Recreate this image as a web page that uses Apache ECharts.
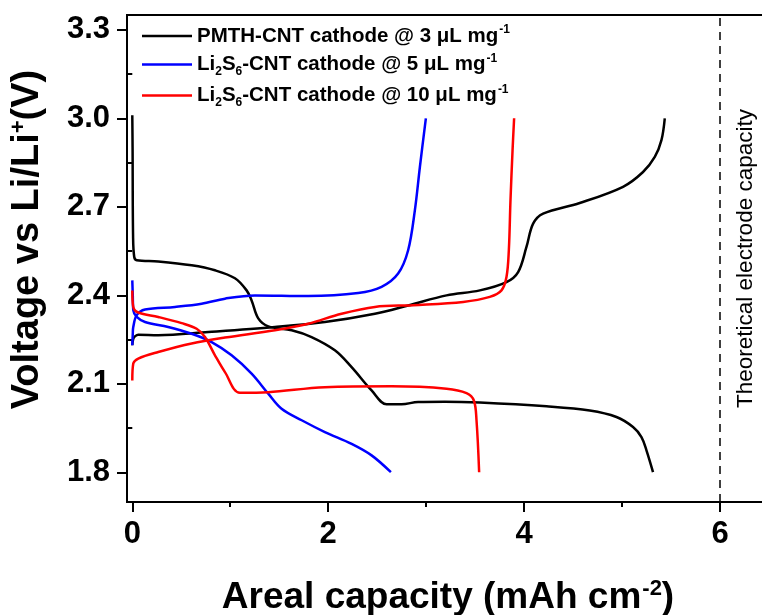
<!DOCTYPE html>
<html><head><meta charset="utf-8">
<script src="https://cdn.jsdelivr.net/npm/echarts@6/dist/echarts.min.js"></script>
<style>html,body{margin:0;padding:0;background:#fff}#c{width:762px;height:615px}</style>
</head><body><div id="c"></div>
<script>
// ---- data ----
var seriesNames = ['PMTH-CNT 3', 'Li2S6-CNT 5', 'Li2S6-CNT 10'];
var legendRich = [
  '{b|PMTH-CNT cathode @ 3 \u03BCL mg}{sup|-1}',
  '{b|Li}{sub|2}{b|S}{sub|6}{b|-CNT cathode @ 5 \u03BCL mg}{sup|-1}',
  '{b|Li}{sub|2}{b|S}{sub|6}{b|-CNT cathode @ 10 \u03BCL mg}{sup|-1}'
];
var xTicks = [0, 2, 4, 6];
var xMinor = [1, 3, 5];
var yTicks = [1.8, 2.1, 2.4, 2.7, 3.0, 3.3];
var yMinor = [1.95, 2.25, 2.55, 2.85, 3.15];
var theoreticalCapacity = 6;

var pmthDisX = [0, 0.003, 0.008, 0.02, 0.045, 0.265, 0.606, 0.844, 1.048, 1.167, 1.218, 1.286, 1.388, 1.627, 1.83, 2.068, 2.239, 2.443, 2.596, 2.749, 2.918, 3.19, 3.548, 4.229, 4.67, 4.943, 5.112, 5.198, 5.249, 5.316];
var pmthDisY = [3.01, 2.9, 2.6, 2.53, 2.519, 2.515, 2.502, 2.485, 2.458, 2.417, 2.383, 2.322, 2.295, 2.282, 2.259, 2.214, 2.157, 2.078, 2.031, 2.031, 2.039, 2.04, 2.037, 2.024, 2.010, 1.988, 1.954, 1.920, 1.875, 1.801];
var pmthChgX = [0, 0.01, 0.03, 0.061, 0.265, 0.776, 1.456, 1.966, 2.477, 2.817, 3.208, 3.548, 3.82, 3.939, 4.024, 4.092, 4.194, 4.568, 5.01, 5.214, 5.334, 5.402, 5.436];
var pmthChgY = [2.231, 2.253, 2.262, 2.267, 2.265, 2.276, 2.293, 2.31, 2.338, 2.366, 2.4, 2.417, 2.445, 2.479, 2.564, 2.643, 2.677, 2.713, 2.768, 2.818, 2.869, 2.926, 3.0];
var li5DisX = [0, 0.005, 0.01, 0.045, 0.13, 0.367, 0.606, 0.81, 1.014, 1.218, 1.388, 1.524, 1.729, 1.966, 2.239, 2.443, 2.64];
var li5DisY = [2.451, 2.40, 2.35, 2.327, 2.31, 2.293, 2.270, 2.242, 2.197, 2.135, 2.067, 2.016, 1.977, 1.937, 1.897, 1.858, 1.801];
var li5ChgX = [0, 0.005, 0.01, 0.045, 0.13, 0.436, 0.708, 0.946, 1.252, 1.796, 2.306, 2.545, 2.714, 2.816, 2.885, 2.936, 2.997];
var li5ChgY = [2.231, 2.27, 2.293, 2.333, 2.352, 2.361, 2.372, 2.389, 2.4, 2.398, 2.408, 2.429, 2.474, 2.553, 2.689, 2.835, 3.0];
var li10DisX = [0, 0.01, 0.061, 0.265, 0.504, 0.657, 0.742, 0.844, 0.946, 1.099, 1.388, 1.966, 2.647, 3.208, 3.412, 3.487, 3.514, 3.541];
var li10DisY = [2.417, 2.361, 2.342, 2.327, 2.306, 2.287, 2.259, 2.197, 2.140, 2.070, 2.072, 2.089, 2.092, 2.084, 2.069, 2.044, 1.977, 1.801];
var li10ChgX = [0, 0.01, 0.061, 0.265, 0.606, 0.946, 1.456, 1.796, 2.137, 2.477, 2.867, 3.378, 3.65, 3.769, 3.82, 3.844, 3.861, 3.882, 3.898];
var li10ChgY = [2.112, 2.169, 2.186, 2.208, 2.237, 2.257, 2.282, 2.304, 2.338, 2.361, 2.367, 2.378, 2.395, 2.417, 2.462, 2.553, 2.723, 2.892, 3.0];

function zip(a, b) { return a.map(function (v, i) { return [v, b[i]]; }); }
var FONT = 'Liberation Sans, Arial, sans-serif';
var colors = ['#000000', '#0000ff', '#ff0000'];

function lineSeries(name, idx, xs, ys) {
  return {
    type: 'line', name: name, data: zip(xs, ys), xAxisIndex: 0, yAxisIndex: 0,
    symbol: 'none', showSymbol: false, smooth: 0.35,
    lineStyle: { color: colors[idx], width: 2.5 }, itemStyle: { color: colors[idx] },
    z: 3 + idx, animation: false
  };
}

var chart = echarts.init(document.getElementById('c'), null, { renderer: 'canvas' });
var option = {
  animation: false,
  textStyle: { fontFamily: FONT },
  grid: { left: 127, top: 15, right: -7, bottom: 113, containLabel: false, outerBoundsMode: 'none',
    show: true, borderColor: '#000', borderWidth: 2, backgroundColor: 'transparent' },
  legend: {
    data: seriesNames, orient: 'vertical', left: 137, top: 18,
    icon: 'rect', itemWidth: 50, itemHeight: 2.5, itemGap: 5,
    formatter: function (n) { return legendRich[seriesNames.indexOf(n)]; },
    textStyle: {
      rich: {
        b: { fontFamily: FONT, fontWeight: 'bold', fontSize: 20.5, color: '#000', lineHeight: 26, verticalAlign: 'middle' },
        sup: { fontFamily: FONT, fontWeight: 'bold', fontSize: 12, color: '#000', lineHeight: 26, verticalAlign: 'top', padding: [1, 0, 0, 1] },
        sub: { fontFamily: FONT, fontWeight: 'bold', fontSize: 12, color: '#000', lineHeight: 26, verticalAlign: 'bottom' }
      }
    }
  },
  xAxis: [{
    type: 'value', min: -0.054, max: 6.5,
    name: '{t|Areal capacity (mAh cm}{s|-2}{t|)}', nameLocation: 'middle', nameGap: 74,
    nameTextStyle: { rich: {
      t: { fontFamily: FONT, fontWeight: 'bold', fontSize: 37, color: '#000', lineHeight: 44, verticalAlign: 'middle' },
      s: { fontFamily: FONT, fontWeight: 'bold', fontSize: 22, color: '#000', lineHeight: 44, verticalAlign: 'top', padding: [2, 0, 0, 1] }
    } },
    axisLine: { show: true, onZero: false, lineStyle: { color: '#000', width: 2 } },
    axisTick: { show: true, inside: false, length: 10, customValues: xTicks, lineStyle: { color: '#000', width: 2 } },
    axisLabel: { customValues: xTicks, fontFamily: FONT, fontWeight: 'bold', fontSize: 31, color: '#000', margin: 17 },
    splitLine: { show: false }
  }, {
    type: 'value', min: -0.054, max: 6.5, position: 'bottom',
    axisLine: { show: false },
    axisTick: { show: true, length: 5, customValues: xMinor, lineStyle: { color: '#000', width: 2 } },
    axisLabel: { show: false }, splitLine: { show: false }
  }],
  yAxis: [{
    type: 'value', min: 1.7, max: 3.35,
    name: '{t|Voltage vs Li/Li}{s|+}{t|(V)}', nameLocation: 'middle', nameGap: 77, nameRotate: 90,
    nameTextStyle: { padding: [0, 0, 0, 38], rich: {
      t: { fontFamily: FONT, fontWeight: 'bold', fontSize: 38, color: '#000', lineHeight: 44, verticalAlign: 'middle' },
      s: { fontFamily: FONT, fontWeight: 'bold', fontSize: 22, color: '#000', lineHeight: 44, verticalAlign: 'top', padding: [2, 0, 0, 0] }
    } },
    axisLine: { show: true, onZero: false, lineStyle: { color: '#000', width: 2 } },
    axisTick: { show: true, inside: false, length: 10, customValues: yTicks, lineStyle: { color: '#000', width: 2 } },
    axisLabel: { customValues: yTicks, fontFamily: FONT, fontWeight: 'bold', fontSize: 31, color: '#000', margin: 17,
      formatter: function (v) { return v.toFixed(1); } },
    splitLine: { show: false }
  }, {
    type: 'value', min: 1.7, max: 3.35, position: 'left',
    axisLine: { show: false },
    axisTick: { show: true, length: 5, customValues: yMinor, lineStyle: { color: '#000', width: 2 } },
    axisLabel: { show: false }, splitLine: { show: false }
  }],
  series: [
    lineSeries(seriesNames[0], 0, pmthDisX, pmthDisY),
    lineSeries(seriesNames[0], 0, pmthChgX, pmthChgY),
    lineSeries(seriesNames[1], 1, li5DisX, li5DisY),
    lineSeries(seriesNames[1], 1, li5ChgX, li5ChgY),
    lineSeries(seriesNames[2], 2, li10DisX, li10DisY),
    lineSeries(seriesNames[2], 2, li10ChgX, li10ChgY),
    {
      type: 'line', name: 'theoretical', data: [], xAxisIndex: 0, yAxisIndex: 0,
      markLine: {
        silent: true, symbol: ['none', 'none'], animation: false,
        lineStyle: { color: '#000', width: 1.5, type: [8, 6] },
        label: { show: true, position: 'insideMiddleBottom', distance: 14, formatter: 'Theoretical electrode capacity',
          fontFamily: FONT, fontSize: 22.5, color: '#000' },
        data: [{ xAxis: theoreticalCapacity }]
      }
    }
  ]
};
chart.setOption(option);
</script></body></html>
